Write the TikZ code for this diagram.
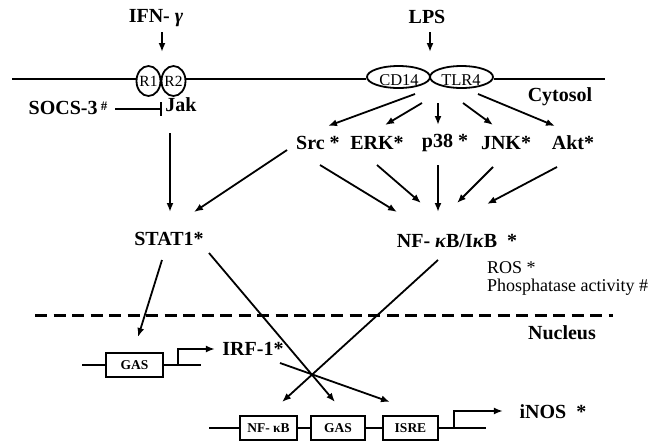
\documentclass[tikz,border=0pt]{standalone}
\usepackage{fontspec}
\setmainfont{Liberation Serif}
\usetikzlibrary{arrows.meta,calc,shapes.geometric}
\begin{document}
\begin{tikzpicture}[x=1pt,y=-1pt,
  lbl/.style={font=\fontsize{20}{22}\selectfont\bfseries, inner sep=0pt},
  reg/.style={font=\fontsize{18}{20}\selectfont, inner sep=0pt},
  rtxt/.style={font=\fontsize{15.5}{16}\selectfont, inner sep=0pt},
  ln/.style={line width=1.8pt},
  arr/.style={line width=1.8pt, -{Latex[length=9pt,width=7pt]}},
  rec/.style={ellipse, draw, line width=1.8pt, inner sep=0pt},
  gbox/.style={draw, line width=1.8pt, minimum height=24pt, inner sep=0pt, font=\fontsize{13.5}{14}\selectfont\bfseries}]
\useasboundingbox (0,0) rectangle (649,442);

% membrane
\coordinate (memL) at (12,79);
\coordinate (memR) at (605,79);
\node[rec, minimum width=24pt, minimum height=30pt] (r1) at (148.5,81) {};
\node[rec, minimum width=24pt, minimum height=30pt] (r2) at (173.5,81) {};
\node[rec, minimum width=63pt, minimum height=22pt] (cd14) at (398.5,77) {};
\node[rec, minimum width=63pt, minimum height=22pt] (tlr4) at (461.5,77) {};
\node[rtxt] (r1t) at (148.5,81) {R1};
\node[rtxt] (r2t) at (173.5,81) {R2};
\node[rtxt, font=\fontsize{16.5}{17}\selectfont] (cd14t) at (399,80) {CD14};
\node[rtxt, font=\fontsize{16.5}{17}\selectfont] (tlr4t) at (461,80) {TLR4};
\draw[ln] (memL) -- (memL -| r1.west);
\draw[ln] (memL -| r2.east) -- (memL -| cd14.west);
\draw[ln] (memL -| tlr4.east) -- (memR);

% top labels
\node[lbl] (ifn) at (156,18) {IFN- \textit{γ}};
\node[lbl] (lps) at (427,17) {LPS};
\node[lbl] (jak) at (181,105) {Jak};
\node[lbl] (socs) at (68,108) {SOCS-3\,\raisebox{4pt}{\fontsize{13}{13}\selectfont\#}};
\node[lbl] (cyto) at (560,97) {Cytosol};

\draw[arr] ($(ifn)+(6,14)$) -- ($(r1)+(13.5,-29)$);
\draw[arr] ($(lps)+(3,15)$) -- ($(cd14)+(31.5,-25)$);
\draw[ln, -{Bar[width=14pt]}] ($(socs)+(47,1)$) -- ($(jak)+(-19,4)$);

% kinases
\node[lbl] (src) at (318,143) {Src *};
\node[lbl] (erk) at (377,143) {ERK*};
\node[lbl] (p38) at (445,143) {p38 *};
\node[lbl] (jnk) at (506,143) {JNK*};
\node[lbl] (akt) at (573,143) {Akt*};

\draw[arr] ($(cd14)+(16.5,17)$) -- ($(src)+(10,-17)$);
\draw[arr] ($(cd14)+(23.5,26)$) -- ($(erk)+(8,-18)$);
\draw[arr] ($(tlr4)+(-23.5,26)$) -- ($(p38)+(-7,-18)$);
\draw[arr] ($(tlr4)+(1.5,26)$) -- ($(jnk)+(-13,-18)$);
\draw[arr] ($(tlr4)+(16.5,17)$) -- ($(akt)+(-18,-17)$);

% transcription factors
\node[lbl] (stat) at (169,239) {STAT1*};
\node[lbl] (nf) at (457,241) {NF- \textit{κ}B/I\textit{κ}B~~*};
\node[reg, anchor=west] (ros) at (487,268) {ROS *};
\node[reg, anchor=west] (phos) at (487,287) {Phosphatase activity \#};

\draw[arr] ($(jak)+(-11,28)$) -- ($(stat)+(1,-27)$);
\draw[arr] ($(src)+(-31,7)$) -- ($(stat)+(25,-27)$);
\draw[arr] ($(src)+(2,22)$) -- ($(nf)+(-60,-29)$);
\draw[arr] ($(erk)+(0,22)$) -- ($(nf)+(-36,-38)$);
\draw[arr] ($(p38)+(-7,22)$) -- ($(nf)+(-19,-29)$);
\draw[arr] ($(jnk)+(-13,24)$) -- ($(nf)+(0,-38)$);
\draw[arr] ($(akt)+(-16,24)$) -- ($(nf)+(30,-37)$);

% nuclear envelope
\coordinate (dashL) at (35,315);
\coordinate (dashR) at (613,315);
\draw[line width=3pt, dash pattern=on 12pt off 6.5pt] (dashL) -- (dashR);
\node[lbl] (nuc) at (562,333) {Nucleus};

% GAS promoter -> IRF-1
\node[gbox, minimum width=57pt] (gas1) at (134.5,365) {GAS};
\draw[ln] ($(gas1.west)+(-23,0)$) -- (gas1.west);
\draw[ln] (gas1.east) -- ++(37,0);
\draw[ln, -{Latex[length=9pt,width=7pt]}] ($(gas1.east)+(14,0)$) -- ++(0,-16) -- ++(37,0);
\node[lbl] (irf) at (253,349) {IRF-1*};

% iNOS promoter
\node[gbox, minimum width=57pt] (nfb) at (268.5,428) {NF- κB};
\node[gbox, minimum width=54pt] (gasb) at (338,428) {GAS};
\node[gbox, minimum width=55pt] (isre) at (410.5,428) {ISRE};
\draw[ln] ($(nfb.west)+(-30,0)$) -- (nfb.west);
\draw[ln] (nfb.east) -- (gasb.west);
\draw[ln] (gasb.east) -- (isre.west);
\draw[ln] (isre.east) -- ++(47,0);
\draw[ln, -{Latex[length=9pt,width=7pt]}] ($(isre.east)+(15,0)$) -- ++(0,-17) -- ++(49,0);
\node[lbl] (inos) at (553,412) {iNOS~~*};

\draw[arr] ($(stat)+(-7,21)$) -- ($(gas1)+(3.5,-28)$);
\draw[arr] ($(stat)+(40,14)$) -- ($(gasb)+(-3,-26)$);
\draw[arr] ($(nf)+(-19,19)$) -- ($(nfb)+(13.5,-26)$);
\draw[arr] ($(irf)+(27,14)$) -- ($(isre)+(-20.5,-26)$);
\end{tikzpicture}
\end{document}
